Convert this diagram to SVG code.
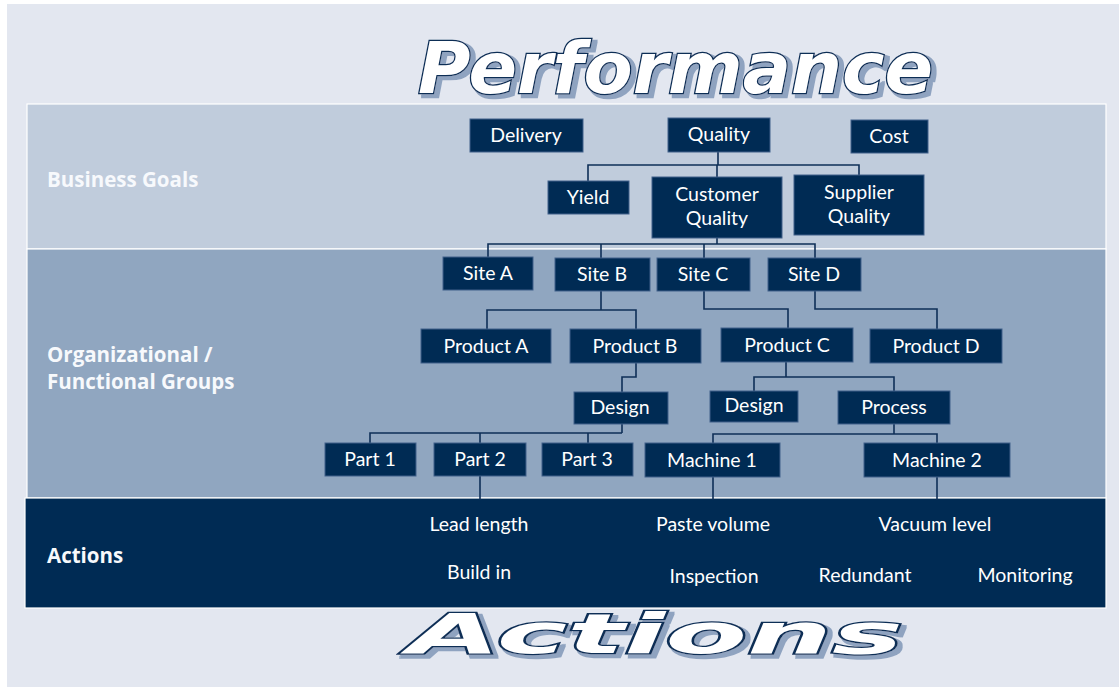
<svg xmlns="http://www.w3.org/2000/svg" width="1119" height="687" viewBox="0 0 1119 687">
<style>
.node rect{fill:#002b54;stroke:#40618a;stroke-width:1}
.node text{fill:#ffffff;font-family:Lato,"Open Sans",sans-serif;font-size:19.5px;text-anchor:middle}
.band-label{fill:#f7f9fc;font-family:"Open Sans",Lato,sans-serif;font-size:20.5px;font-weight:bold}
.act{fill:#ffffff;font-family:Lato,"Open Sans",sans-serif;font-size:19.5px;text-anchor:middle}
.conn path{fill:none;stroke:#0e2f57;stroke-width:1.6}
.title{font-family:"DejaVu Sans",sans-serif;font-weight:bold;font-style:italic;fill:#ffffff;stroke:#0d2d55;stroke-width:2.6;paint-order:stroke;filter:url(#shadow)}
</style>
<defs>
<filter id="shadow" x="-5%" y="-20%" width="110%" height="150%">
<feMorphology in="SourceAlpha" operator="dilate" radius="1" result="d"/>
<feOffset in="d" dx="4" dy="3" result="o"/>
<feFlood flood-color="#8fa3c0"/>
<feComposite in2="o" operator="in" result="s"/>
<feMerge><feMergeNode in="s"/><feMergeNode in="SourceGraphic"/></feMerge>
</filter>
</defs>
<rect x="0" y="0" width="1119" height="687" fill="#ffffff"/>
<rect x="7" y="4" width="1112" height="683" fill="#e3e7f0"/>
<g id="bands">
<rect x="27" y="104" width="1079" height="145" fill="#c0ccdc" stroke="#ffffff" stroke-width="1.2"/>
<rect x="27" y="249" width="1079" height="249" fill="#90a6c0" stroke="#ffffff" stroke-width="1.2"/>
<rect x="25" y="498" width="1081" height="110" fill="#002b54" stroke="#ffffff" stroke-width="1.2"/>
<text class="band-label" x="47" y="187">Business Goals</text>
<text class="band-label" x="47" y="362">Organizational /</text>
<text class="band-label" x="47" y="389">Functional Groups</text>
<text class="band-label" x="47" y="563">Actions</text>
</g>
<g id="title-performance">
<text class="title" x="418" y="93" font-size="72" textLength="515" lengthAdjust="spacingAndGlyphs">Performance</text>
</g>
<g id="title-actions">
<text class="title" x="408" y="653" font-size="56" textLength="495" lengthAdjust="spacingAndGlyphs">Actions</text>
</g>
<g id="connectors" class="conn">
<path d="M718 152V165M588 181V165H859V175M717 165V177"/>
<path d="M717 238V244M488 257V244H815V258M601 244V258M704 244V258"/>
<path d="M601 291V310M487 329V310H636V329"/>
<path d="M704 291V309H788V328"/>
<path d="M815 291V309H937V329"/>
<path d="M636 363V377H622V392"/>
<path d="M786 362V377M754 391V377H894V391"/>
<path d="M622 424V433M370 443V433H622M480 433V443M588 433V443"/>
<path d="M894 424V434M713 443V434H937V443"/>
<path d="M480 476V500M713 477V500M937 477V500"/>
</g>
<g id="n-delivery" class="node"><rect x="470" y="119" width="113" height="33"/><text x="526" y="142">Delivery</text></g>
<g id="n-quality" class="node"><rect x="668" y="118" width="102" height="34"/><text x="719" y="141">Quality</text></g>
<g id="n-cost" class="node"><rect x="851" y="120" width="77" height="33"/><text x="889" y="143">Cost</text></g>
<g id="n-yield" class="node"><rect x="548" y="181" width="81" height="33"/><text x="588" y="204">Yield</text></g>
<g id="n-custq" class="node"><rect x="652" y="177" width="130" height="61"/><text x="717" y="201">Customer</text><text x="717" y="225">Quality</text></g>
<g id="n-suppq" class="node"><rect x="794" y="175" width="130" height="60"/><text x="859" y="199">Supplier</text><text x="859" y="223">Quality</text></g>
<g id="n-sitea" class="node"><rect x="443" y="257" width="90" height="33"/><text x="488" y="280">Site A</text></g>
<g id="n-siteb" class="node"><rect x="555" y="258" width="95" height="33"/><text x="602" y="281">Site B</text></g>
<g id="n-sitec" class="node"><rect x="657" y="258" width="93" height="33"/><text x="703" y="281">Site C</text></g>
<g id="n-sited" class="node"><rect x="768" y="258" width="93" height="33"/><text x="814" y="281">Site D</text></g>
<g id="n-proda" class="node"><rect x="421" y="329" width="130" height="34"/><text x="486" y="353">Product A</text></g>
<g id="n-prodb" class="node"><rect x="570" y="329" width="131" height="34"/><text x="635" y="353">Product B</text></g>
<g id="n-prodc" class="node"><rect x="721" y="328" width="132" height="34"/><text x="787" y="352">Product C</text></g>
<g id="n-prodd" class="node"><rect x="870" y="329" width="132" height="34"/><text x="936" y="353">Product D</text></g>
<g id="n-designb" class="node"><rect x="574" y="392" width="94" height="32"/><text x="620" y="414">Design</text></g>
<g id="n-designc" class="node"><rect x="710" y="391" width="88" height="31"/><text x="754" y="412">Design</text></g>
<g id="n-process" class="node"><rect x="838" y="391" width="112" height="33"/><text x="894" y="414">Process</text></g>
<g id="n-part1" class="node"><rect x="325" y="443" width="91" height="33"/><text x="370" y="466">Part 1</text></g>
<g id="n-part2" class="node"><rect x="434" y="443" width="92" height="33"/><text x="480" y="466">Part 2</text></g>
<g id="n-part3" class="node"><rect x="542" y="443" width="91" height="33"/><text x="587" y="466">Part 3</text></g>
<g id="n-machine1" class="node"><rect x="645" y="443" width="135" height="34"/><text x="712" y="467">Machine 1</text></g>
<g id="n-machine2" class="node"><rect x="864" y="443" width="146" height="34"/><text x="937" y="467">Machine 2</text></g>
<g id="actions">
<text class="act" x="479" y="531">Lead length</text>
<text class="act" x="713" y="531">Paste volume</text>
<text class="act" x="935" y="531">Vacuum level</text>
<text class="act" x="479" y="579">Build in</text>
<text class="act" x="714" y="583">Inspection</text>
<text class="act" x="865" y="582">Redundant</text>
<text class="act" x="1025" y="582">Monitoring</text>
</g>
</svg>
